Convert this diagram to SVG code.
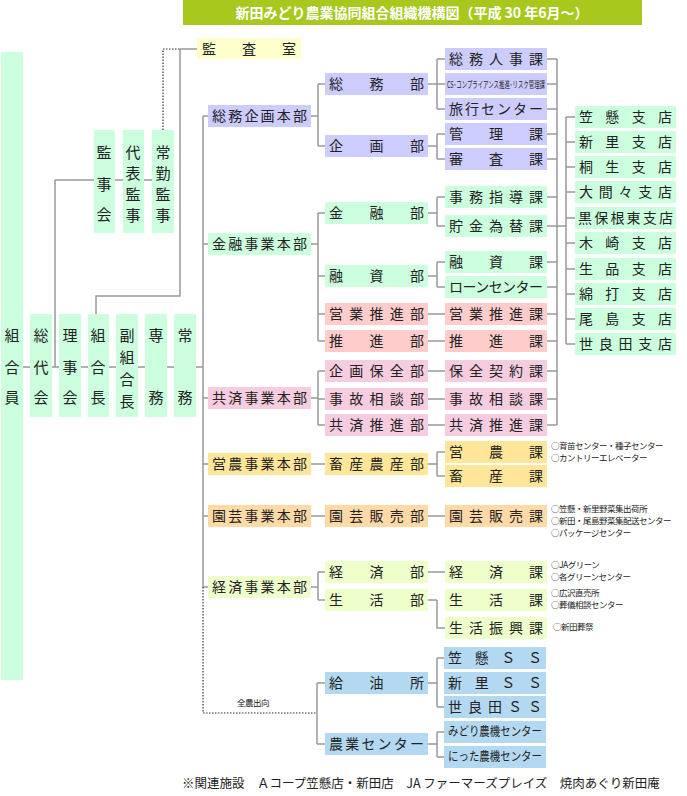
<svg xmlns="http://www.w3.org/2000/svg" width="687" height="796" viewBox="0 0 687 796">
<style>
text{font-family:"Noto Sans CJK JP","Noto Sans CJK SC",sans-serif;fill:#222;}
.b{font-size:14px;}
.v{font-size:15px;text-anchor:middle;}
.n{font-size:8.5px;letter-spacing:-0.5px;}
.ln{fill:none;stroke:#999;stroke-width:1.5;}
.dt{fill:none;stroke:#333;stroke-width:1.2;stroke-dasharray:1.5 1.5;}
.lav{fill:#ccccff}.mint{fill:#ccffdd}.red{fill:#ffcccc}.pink{fill:#f5cce0}.gold{fill:#ffe699}.peach{fill:#ffd9a6}.yg{fill:#eeffcc}.blue{fill:#b3d9f2}.yel{fill:#ffffcc}
</style>
<rect x="183" y="0" width="459" height="25" fill="#a8c81e"/>
<text x="412" y="18" text-anchor="middle" style="fill:#fff;font-size:14px;font-weight:bold">新田みどり農業協同組合組織機構図（平成 30 年6月～）</text>
<g id="connectors">
<path class="ln" d="M23,367H203M203,116V587M203,116H208M203,244H208M203,398H208M203,464H208M203,516H208M203,587H208"/>
<path class="ln" d="M55,180V367M55,180H174M180,49H197M180,49V296H96V314"/>
<path class="dt" d="M163,130V49H180M203,587V713H317"/>
<path class="ln" d="M311,116H318M318,84V146M318,84H325M318,146H325M311,244H318M318,213V341M318,213H325M318,276H325M318,314H325M318,341H325M311,398H318M318,371V425M318,371H325M318,399H325M318,425H325M311,464H325M311,516H325M311,587H318M318,572V600M318,572H325M318,600H325M317,683V744M317,683H325M317,744H325"/>
<path class="ln" d="M428,84H437M437,59V109M437,59H445M437,84H445M437,109H445M428,146H437M437,134V159M437,134H445M437,159H445M428,213H437M437,197V226M437,197H445M437,226H445M428,276H437M437,262V287M437,262H445M437,287H445M428,314H445M428,341H445M428,371H445M428,399H445M428,425H445M428,464H437M437,452V476M437,452H445M437,476H445M428,516H445M428,572H445M428,600H437M437,600V628H445M428,683H437M437,658V707M437,658H444M437,707H444M428,744H437M437,732V757M437,732H444M437,757H444"/>
<path class="ln" d="M547,59H557M547,84H557M547,109H557M547,134H557M547,159H557M547,197H557M547,226H566M547,262H557M547,287H557M547,314H557M547,341H557M547,371H557M547,399H557M547,425H557M557,59V425M566,117V344M566,117H575M566,142H575M566,167H575M566,192H575M566,218H575M566,243H575M566,269H575M566,294H575M566,319H575M566,344H575"/>
</g>
<g id="n-kumiaiin"><rect class="mint" x="1" y="52" width="22" height="628"/><text class="v" x="12" y="341">組</text><text class="v" x="12" y="373">合</text><text class="v" x="12" y="403">員</text></g>
<g id="n-soudai"><rect class="mint" x="30" y="314" width="22" height="103"/><text class="v" x="41" y="341">総</text><text class="v" x="41" y="373">代</text><text class="v" x="41" y="403">会</text></g>
<g id="n-rijikai"><rect class="mint" x="59" y="314" width="22" height="103"/><text class="v" x="70" y="341">理</text><text class="v" x="70" y="373">事</text><text class="v" x="70" y="403">会</text></g>
<g id="n-kumiaichou"><rect class="mint" x="88" y="314" width="21" height="103"/><text class="v" x="98" y="341">組</text><text class="v" x="98" y="373">合</text><text class="v" x="98" y="403">長</text></g>
<g id="n-fuku"><rect class="mint" x="116" y="314" width="22" height="103"/><text class="v" x="127" y="341">副</text><text class="v" x="127" y="363">組</text><text class="v" x="127" y="385">合</text><text class="v" x="127" y="407">長</text></g>
<g id="n-senmu"><rect class="mint" x="145" y="314" width="22" height="103"/><text class="v" x="156" y="341">専</text><text class="v" x="156" y="403">務</text></g>
<g id="n-joumu"><rect class="mint" x="174" y="314" width="22" height="103"/><text class="v" x="185" y="341">常</text><text class="v" x="185" y="403">務</text></g>
<g id="n-kanjikai"><rect class="mint" x="94" y="130" width="21" height="103"/><text class="v" x="104" y="158">監</text><text class="v" x="104" y="190">事</text><text class="v" x="104" y="220">会</text></g>
<g id="n-daihyou"><rect class="mint" x="123" y="130" width="21" height="103"/><text class="v" x="133" y="158">代</text><text class="v" x="133" y="179">表</text><text class="v" x="133" y="200">監</text><text class="v" x="133" y="221">事</text></g>
<g id="n-joukin"><rect class="mint" x="152" y="130" width="22" height="103"/><text class="v" x="163" y="158">常</text><text class="v" x="163" y="179">勤</text><text class="v" x="163" y="200">監</text><text class="v" x="163" y="221">事</text></g>
<g id="n-kansa"><rect class="yel" x="197" y="38" width="104" height="21"/><text class="b" x="202" y="54" textLength="94" lengthAdjust="spacing">監査室</text></g>
<g id="hq">
<g id="h1"><rect class="lav" x="208" y="105" width="103" height="22"/><text class="b" x="212" y="121" textLength="95" lengthAdjust="spacing">総務企画本部</text></g>
<g id="h2"><rect class="mint" x="208" y="233" width="103" height="22"/><text class="b" x="212" y="249" textLength="95" lengthAdjust="spacing">金融事業本部</text></g>
<g id="h3"><rect class="pink" x="208" y="387" width="103" height="22"/><text class="b" x="212" y="403" textLength="95" lengthAdjust="spacing">共済事業本部</text></g>
<g id="h4"><rect class="gold" x="208" y="453" width="103" height="22"/><text class="b" x="212" y="469" textLength="95" lengthAdjust="spacing">営農事業本部</text></g>
<g id="h5"><rect class="peach" x="208" y="505" width="103" height="22"/><text class="b" x="212" y="521" textLength="95" lengthAdjust="spacing">園芸事業本部</text></g>
<g id="h6"><rect class="yg" x="208" y="576" width="103" height="22"/><text class="b" x="212" y="592" textLength="95" lengthAdjust="spacing">経済事業本部</text></g>
</g>
<g id="depts">
<g id="d1"><rect class="lav" x="325" y="73" width="103" height="22"/><text class="b" x="329" y="89" textLength="95" lengthAdjust="spacing">総務部</text></g>
<g id="d2"><rect class="lav" x="325" y="135" width="103" height="22"/><text class="b" x="329" y="151" textLength="95" lengthAdjust="spacing">企画部</text></g>
<g id="d3"><rect class="mint" x="325" y="202" width="103" height="22"/><text class="b" x="329" y="218" textLength="95" lengthAdjust="spacing">金融部</text></g>
<g id="d4"><rect class="mint" x="325" y="265" width="103" height="22"/><text class="b" x="329" y="281" textLength="95" lengthAdjust="spacing">融資部</text></g>
<g id="d5"><rect class="red" x="325" y="303" width="103" height="22"/><text class="b" x="329" y="319" textLength="95" lengthAdjust="spacing">営業推進部</text></g>
<g id="d6"><rect class="red" x="325" y="330" width="103" height="22"/><text class="b" x="329" y="346" textLength="95" lengthAdjust="spacing">推進部</text></g>
<g id="d7"><rect class="pink" x="325" y="360" width="103" height="22"/><text class="b" x="329" y="376" textLength="95" lengthAdjust="spacing">企画保全部</text></g>
<g id="d8"><rect class="pink" x="325" y="388" width="103" height="22"/><text class="b" x="329" y="404" textLength="95" lengthAdjust="spacing">事故相談部</text></g>
<g id="d9"><rect class="pink" x="325" y="414" width="103" height="22"/><text class="b" x="329" y="430" textLength="95" lengthAdjust="spacing">共済推進部</text></g>
<g id="d10"><rect class="gold" x="325" y="453" width="103" height="22"/><text class="b" x="329" y="469" textLength="95" lengthAdjust="spacing">畜産農産部</text></g>
<g id="d11"><rect class="peach" x="325" y="505" width="103" height="22"/><text class="b" x="329" y="521" textLength="95" lengthAdjust="spacing">園芸販売部</text></g>
<g id="d12"><rect class="yg" x="325" y="561" width="103" height="22"/><text class="b" x="329" y="577" textLength="95" lengthAdjust="spacing">経済部</text></g>
<g id="d13"><rect class="yg" x="325" y="589" width="103" height="22"/><text class="b" x="329" y="605" textLength="95" lengthAdjust="spacing">生活部</text></g>
<g id="d14"><rect class="blue" x="325" y="672" width="103" height="22"/><text class="b" x="329" y="688" textLength="95" lengthAdjust="spacing">給油所</text></g>
<g id="d15"><rect class="blue" x="325" y="733" width="103" height="22"/><text class="b" x="329" y="749" textLength="95" lengthAdjust="spacing">農業センター</text></g>
</g>
<g id="sections">
<g id="s1"><rect class="lav" x="445" y="48" width="102" height="22"/><text class="b" x="449" y="64" textLength="94" lengthAdjust="spacing">総務人事課</text></g>
<g id="s2"><rect class="lav" x="445" y="73" width="102" height="22"/><text x="447" y="88" style="font-size:9px" textLength="98" lengthAdjust="spacingAndGlyphs">CS･コンプライアンス推進･リスク管理課</text></g>
<g id="s3"><rect class="lav" x="445" y="98" width="102" height="22"/><text class="b" x="449" y="114" textLength="94" lengthAdjust="spacing">旅行センター</text></g>
<g id="s4"><rect class="lav" x="445" y="123" width="102" height="22"/><text class="b" x="449" y="139" textLength="94" lengthAdjust="spacing">管理課</text></g>
<g id="s5"><rect class="lav" x="445" y="148" width="102" height="22"/><text class="b" x="449" y="164" textLength="94" lengthAdjust="spacing">審査課</text></g>
<g id="s6"><rect class="mint" x="445" y="186" width="102" height="22"/><text class="b" x="449" y="202" textLength="94" lengthAdjust="spacing">事務指導課</text></g>
<g id="s7"><rect class="mint" x="445" y="215" width="102" height="22"/><text class="b" x="449" y="231" textLength="94" lengthAdjust="spacing">貯金為替課</text></g>
<g id="s8"><rect class="mint" x="445" y="251" width="102" height="22"/><text class="b" x="449" y="267" textLength="94" lengthAdjust="spacing">融資課</text></g>
<g id="s9"><rect class="mint" x="445" y="276" width="102" height="22"/><text class="b" x="449" y="292" textLength="94" lengthAdjust="spacing">ローンセンター</text></g>
<g id="s10"><rect class="red" x="445" y="303" width="102" height="22"/><text class="b" x="449" y="319" textLength="94" lengthAdjust="spacing">営業推進課</text></g>
<g id="s11"><rect class="red" x="445" y="330" width="102" height="22"/><text class="b" x="449" y="346" textLength="94" lengthAdjust="spacing">推進課</text></g>
<g id="s12"><rect class="pink" x="445" y="360" width="102" height="22"/><text class="b" x="449" y="376" textLength="94" lengthAdjust="spacing">保全契約課</text></g>
<g id="s13"><rect class="pink" x="445" y="388" width="102" height="22"/><text class="b" x="449" y="404" textLength="94" lengthAdjust="spacing">事故相談課</text></g>
<g id="s14"><rect class="pink" x="445" y="414" width="102" height="22"/><text class="b" x="449" y="430" textLength="94" lengthAdjust="spacing">共済推進課</text></g>
<g id="s15"><rect class="gold" x="445" y="441" width="102" height="22"/><text class="b" x="449" y="457" textLength="94" lengthAdjust="spacing">営農課</text></g>
<g id="s16"><rect class="gold" x="445" y="465" width="102" height="22"/><text class="b" x="449" y="481" textLength="94" lengthAdjust="spacing">畜産課</text></g>
<g id="s17"><rect class="peach" x="445" y="505" width="102" height="22"/><text class="b" x="449" y="521" textLength="94" lengthAdjust="spacing">園芸販売課</text></g>
<g id="s18"><rect class="yg" x="445" y="561" width="102" height="22"/><text class="b" x="449" y="577" textLength="94" lengthAdjust="spacing">経済課</text></g>
<g id="s19"><rect class="yg" x="445" y="589" width="102" height="22"/><text class="b" x="449" y="605" textLength="94" lengthAdjust="spacing">生活課</text></g>
<g id="s20"><rect class="yg" x="445" y="617" width="102" height="22"/><text class="b" x="449" y="633" textLength="94" lengthAdjust="spacing">生活振興課</text></g>
<g id="s21"><rect class="blue" x="444" y="647" width="102" height="22"/><text class="b" x="448" y="663" textLength="94" lengthAdjust="spacing">笠懸ＳＳ</text></g>
<g id="s22"><rect class="blue" x="444" y="672" width="102" height="22"/><text class="b" x="448" y="688" textLength="94" lengthAdjust="spacing">新里ＳＳ</text></g>
<g id="s23"><rect class="blue" x="444" y="696" width="102" height="22"/><text class="b" x="448" y="712" textLength="94" lengthAdjust="spacing">世良田ＳＳ</text></g>
<g id="s24"><rect class="blue" x="444" y="721" width="102" height="22"/><text x="448" y="736" style="font-size:12px" textLength="94" lengthAdjust="spacingAndGlyphs">みどり農機センター</text></g>
<g id="s25"><rect class="blue" x="444" y="746" width="102" height="22"/><text x="448" y="761" style="font-size:12px" textLength="94" lengthAdjust="spacingAndGlyphs">にった農機センター</text></g>
</g>
<g id="branches">
<g id="b1"><rect class="mint" x="575" y="106" width="101" height="22"/><text class="b" x="579" y="122" textLength="93" lengthAdjust="spacing">笠懸支店</text></g>
<g id="b2"><rect class="mint" x="575" y="131" width="101" height="22"/><text class="b" x="579" y="147" textLength="93" lengthAdjust="spacing">新里支店</text></g>
<g id="b3"><rect class="mint" x="575" y="156" width="101" height="22"/><text class="b" x="579" y="172" textLength="93" lengthAdjust="spacing">桐生支店</text></g>
<g id="b4"><rect class="mint" x="575" y="181" width="101" height="22"/><text class="b" x="579" y="197" textLength="93" lengthAdjust="spacing">大間々支店</text></g>
<g id="b5"><rect class="mint" x="575" y="207" width="101" height="22"/><text class="b" x="578" y="223" textLength="95" lengthAdjust="spacing">黒保根東支店</text></g>
<g id="b6"><rect class="mint" x="575" y="232" width="101" height="22"/><text class="b" x="579" y="248" textLength="93" lengthAdjust="spacing">木崎支店</text></g>
<g id="b7"><rect class="mint" x="575" y="258" width="101" height="22"/><text class="b" x="579" y="274" textLength="93" lengthAdjust="spacing">生品支店</text></g>
<g id="b8"><rect class="mint" x="575" y="283" width="101" height="22"/><text class="b" x="579" y="299" textLength="93" lengthAdjust="spacing">綿打支店</text></g>
<g id="b9"><rect class="mint" x="575" y="308" width="101" height="22"/><text class="b" x="579" y="324" textLength="93" lengthAdjust="spacing">尾島支店</text></g>
<g id="b10"><rect class="mint" x="575" y="333" width="101" height="22"/><text class="b" x="579" y="349" textLength="93" lengthAdjust="spacing">世良田支店</text></g>
</g>
<g id="notes">
<text class="n" x="551" y="449">○育苗センター・種子センター</text>
<text class="n" x="551" y="461">○カントリーエレベーター</text>
<text class="n" x="551" y="512">○笠懸・新里野菜集出荷所</text>
<text class="n" x="551" y="524">○新田・尾島野菜集配送センター</text>
<text class="n" x="551" y="536">○パッケージセンター</text>
<text class="n" x="551" y="568">○JAグリーン</text>
<text class="n" x="551" y="580">○各グリーンセンター</text>
<text class="n" x="551" y="596">○広沢直売所</text>
<text class="n" x="551" y="608">○葬儀相談センター</text>
<text class="n" x="553" y="630">○新田葬祭</text>
<text class="n" x="237" y="706">全農出向</text>
<text x="182" y="788" style="font-size:12.5px">※関連施設　Ａコープ笠懸店・新田店　JA ファーマーズプレイズ　焼肉あぐり新田庵</text>
</g>
</svg>
